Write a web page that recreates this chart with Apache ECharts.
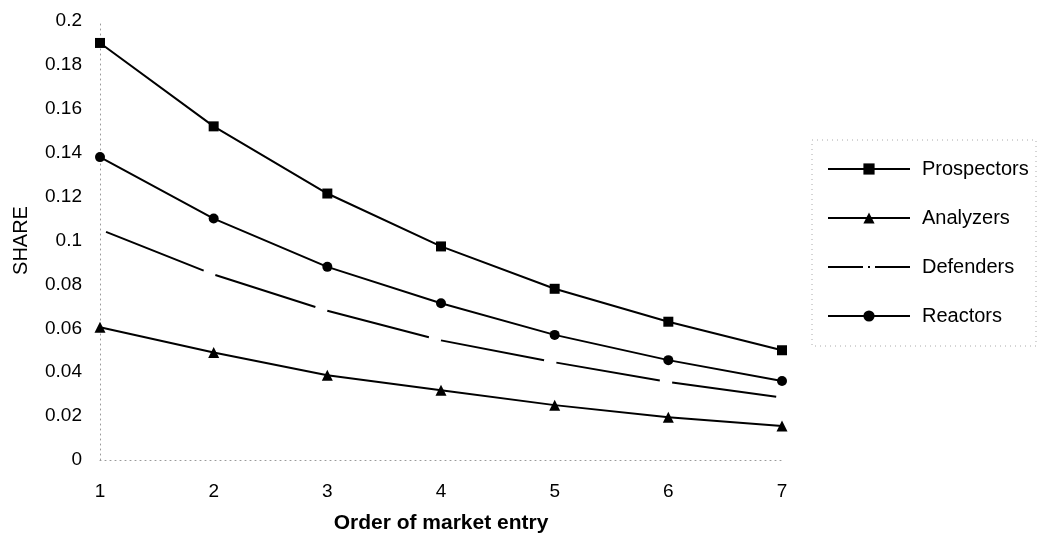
<!DOCTYPE html>
<html>
<head>
<meta charset="utf-8">
<script src="https://cdn.jsdelivr.net/npm/echarts@6/dist/echarts.min.js"></script>
<style>
html,body{margin:0;padding:0;background:#fff;}
#c{width:1040px;height:543px;}
</style>
</head>
<body>
<div id="c"></div>
<script>
const categories = [1, 2, 3, 4, 5, 6, 7];
const prospectors = [0.190, 0.152, 0.1214, 0.0973, 0.078, 0.063, 0.050];
const analyzers   = [0.0605, 0.049, 0.0386, 0.0318, 0.025, 0.0195, 0.0155];
const defenders   = [0.105, 0.0845, 0.068, 0.0545, 0.0445, 0.0355, 0.0285];
const reactors    = [0.138, 0.110, 0.088, 0.0714, 0.057, 0.0455, 0.036];
const yTicks = [0, 0.02, 0.04, 0.06, 0.08, 0.1, 0.12, 0.14, 0.16, 0.18, 0.2];

const FONT = '"Liberation Sans", Arial, sans-serif';
const pairs = arr => categories.map((c, i) => [c, arr[i]]);

const chart = echarts.init(document.getElementById('c'));
const lineBase = { color: '#000', width: 2 };

chart.setOption({
  animation: false,
  backgroundColor: '#fff',
  grid: { left: 100, right: 258, top: 21, bottom: 83 },
  xAxis: {
    type: 'value', min: 1, max: 7, interval: 1,
    name: 'Order of market entry', nameLocation: 'middle', nameGap: 53,
    nameTextStyle: { fontFamily: FONT, fontSize: 21, fontWeight: 'bold', color: '#000' },
    axisLine: { show: true, lineStyle: { color: '#999', type: [1, 4], width: 1 } },
    axisTick: { show: false },
    splitLine: { show: false },
    axisLabel: { fontFamily: FONT, fontSize: 19, color: '#000', margin: 22 }
  },
  yAxis: {
    type: 'value', min: 0, max: 0.2, interval: 0.02,
    name: 'SHARE', nameLocation: 'middle', nameGap: 69, nameRotate: 90,
    nameTextStyle: { fontFamily: FONT, fontSize: 20, color: '#000' },
    axisLine: { show: true, lineStyle: { color: '#999', type: [1, 4], width: 1 } },
    axisTick: { show: false },
    splitLine: { show: false },
    axisLabel: {
      fontFamily: FONT, fontSize: 19, color: '#000', margin: 18,
      formatter: v => { const t = yTicks.find(x => Math.abs(x - v) < 1e-9); return String(+((t !== undefined ? t : v).toFixed(2))); }
    }
  },
  legend: {
    orient: 'vertical', left: 822, top: 154, itemGap: 29,
    itemWidth: 82, itemHeight: 14,
    textStyle: { fontFamily: FONT, fontSize: 20, color: '#000', padding: [0, 0, 0, 7] },
    data: [
      { name: 'Prospectors' },
      { name: 'Analyzers' },
      { name: 'Defenders', itemStyle: { opacity: 0 }, lineStyle: { type: [35, 5, 2, 5], dashOffset: 0 } },
      { name: 'Reactors' }
    ]
  },
  graphic: [{
    type: 'rect', shape: { x: 812, y: 140, width: 224, height: 206 },
    style: { fill: 'none', stroke: '#aaa', lineWidth: 1, lineDash: [1, 4] }, silent: true
  }],
  series: [
    { name: 'Prospectors', type: 'line', data: pairs(prospectors), symbol: 'rect', symbolSize: 10,
      lineStyle: lineBase, itemStyle: { color: '#000' } },
    { name: 'Analyzers', type: 'line', data: pairs(analyzers), symbol: 'triangle', symbolSize: 11,
      lineStyle: lineBase, itemStyle: { color: '#000' } },
    { name: 'Defenders', type: 'line', data: pairs(defenders), symbol: 'none', showSymbol: false,
      lineStyle: { color: '#000', width: 2, type: [105, 12.5], dashOffset: 111 }, itemStyle: { color: '#000' } },
    { name: 'Reactors', type: 'line', data: pairs(reactors), symbol: 'circle', symbolSize: 10,
      lineStyle: lineBase, itemStyle: { color: '#000' } }
  ]
});
</script>
</body>
</html>
